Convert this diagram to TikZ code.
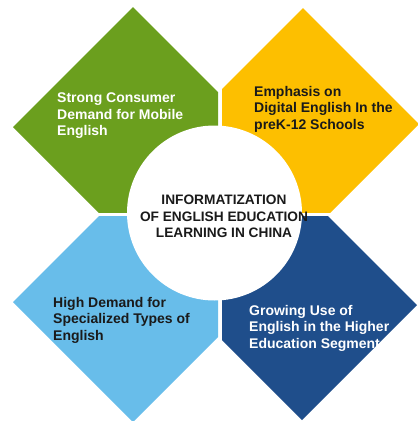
\documentclass[tikz,border=0pt]{standalone}
\usepackage{fontspec}
\setmainfont{Liberation Sans}
\definecolor{cgreen}{RGB}{107,159,30}
\definecolor{cyellow}{RGB}{253,191,0}
\definecolor{clblue}{RGB}{104,189,234}
\definecolor{cdblue}{RGB}{31,78,139}
\definecolor{ctext}{RGB}{26,26,26}
\begin{document}
\begin{tikzpicture}[x=1pt,y=-1pt,
  lbl/.style={font=\bfseries\fontsize{14}{16.6}\selectfont, align=left, anchor=north west, inner sep=0pt},
  ctr/.style={font=\bfseries\fontsize{13.7}{16.6}\selectfont, align=center, anchor=north, inner sep=0pt, text=ctext}]
\useasboundingbox (0,0) rectangle (418,421);
% green (top left)
\begin{scope}
\clip (0,0) rectangle (218,212);
\fill[cgreen] (133,7) -- (253,127) -- (133,247) -- (13,127) -- cycle;
\end{scope}
% yellow (top right)
\begin{scope}
\clip (222,0) rectangle (418,212);
\fill[cyellow] (303,8) -- (419,124) -- (303,240) -- (187,124) -- cycle;
\end{scope}
% light blue (bottom left)
\begin{scope}
\clip (0,216) rectangle (218,421);
\fill[clblue] (133,182) -- (253,302) -- (133,422) -- (13,302) -- cycle;
\end{scope}
% dark blue (bottom right)
\begin{scope}
\clip (222,216) rectangle (418,421);
\fill[cdblue] (302,190) -- (417,305) -- (302,420) -- (187,305) -- cycle;
\end{scope}
% centre circle
\fill[white] (214.5,213) circle[radius=87.5];
% labels
\node[lbl, text=white] (tl) at (57,92.5) {Strong Consumer\\Demand for Mobile\\English};
\node[lbl, text=ctext] (tr) at (254,86) {Emphasis on\\Digital English In the\\preK-12 Schools};
\node[lbl, text=ctext] (bl) at (53,297) {High Demand for\\Specialized Types of\\English};
\node[lbl, text=white] (br) at (249,305) {Growing Use of\\English in the Higher\\Education Segment};
\node[ctr] (c) at (224,195) {INFORMATIZATION\\OF ENGLISH EDUCATION\\LEARNING IN CHINA};
\end{tikzpicture}
\end{document}
